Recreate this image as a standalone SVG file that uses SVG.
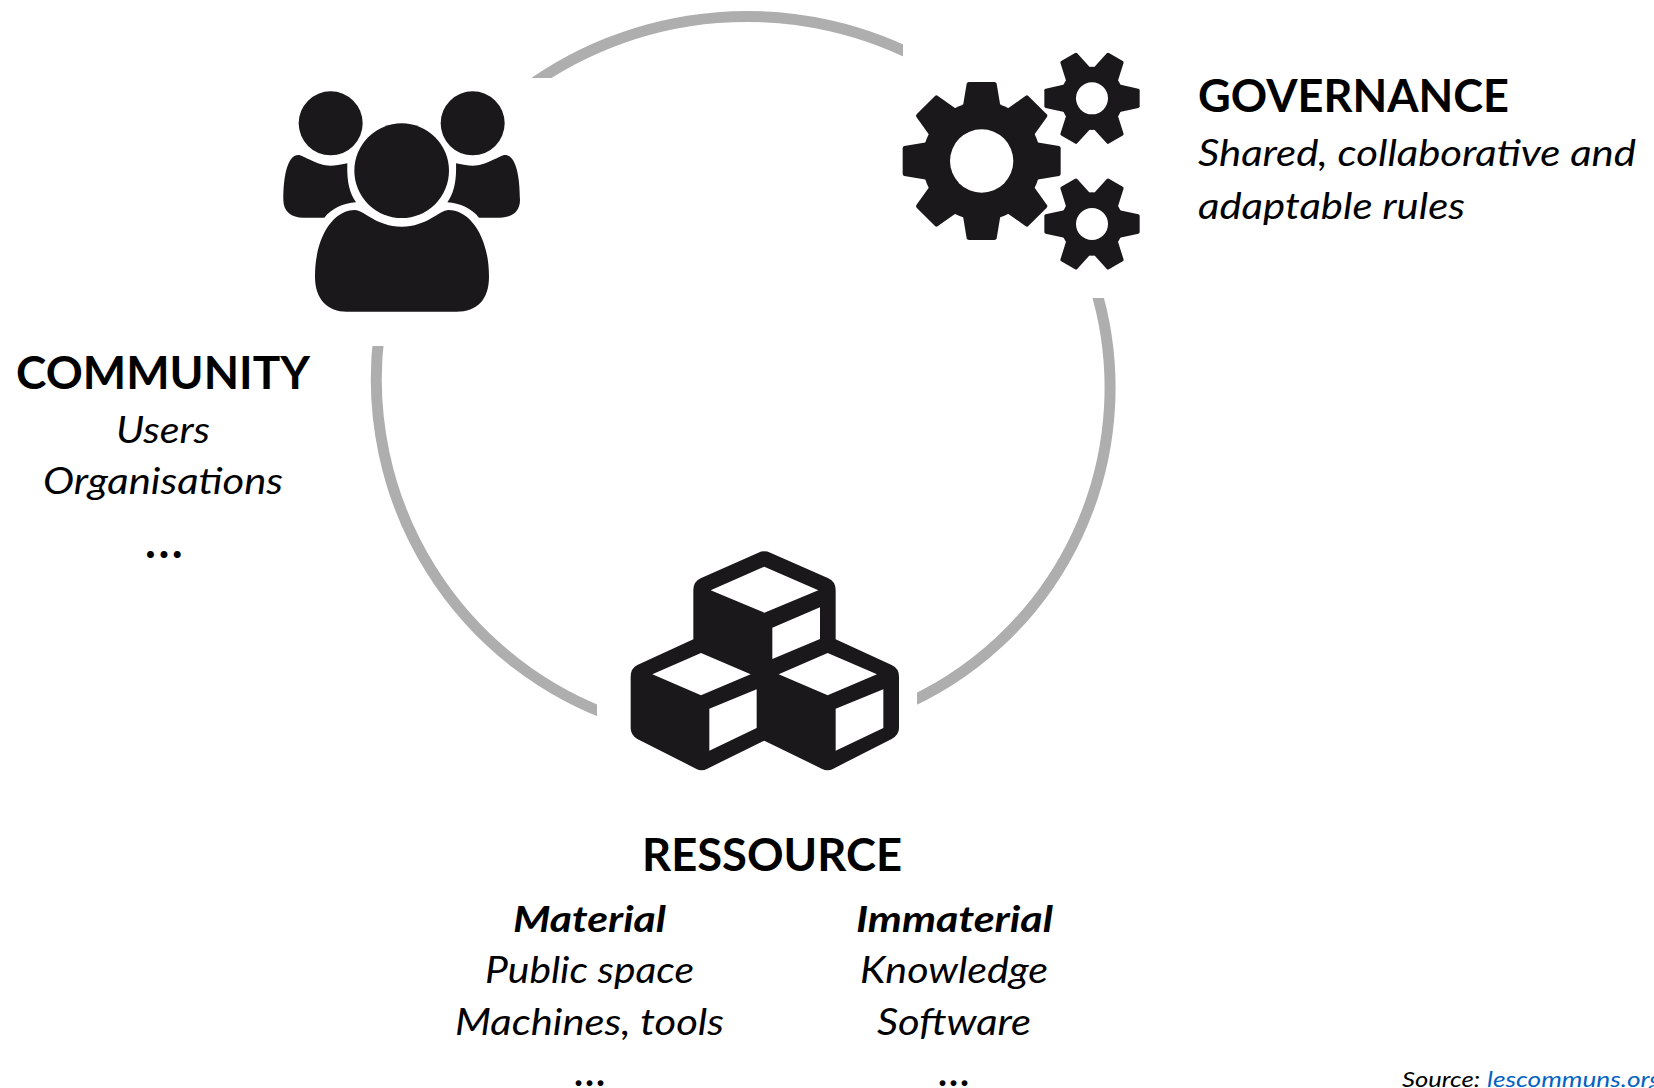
<svg xmlns="http://www.w3.org/2000/svg" width="1654" height="1088" viewBox="0 0 1654 1088">
<style>
text{font-family:"Lato","Carlito","Open Sans",sans-serif;fill:#000}
.h{font-size:46px;font-weight:700}
.i{font-size:37px;font-style:italic}
.b{font-size:37px;font-style:italic;font-weight:700}
.d{font-size:46px;font-weight:700;letter-spacing:2.5px}
.e{font-size:38px;font-weight:700;letter-spacing:2px}
.s{font-size:22px;font-style:italic}
.icon{fill:#1a181b}
.w{fill:#fff}
.arc{fill:none;stroke:#aeaeae;stroke-width:11}
</style>
<defs>
<path id="bt" d="M-57,-160 L-45,-232 Q-44,-237 -38,-237 L38,-237 Q44,-237 45,-232 L57,-160 Z"/>
<path id="st" d="M-42,-80 L-29,-139 Q-28,-143 -24,-143 L24,-143 Q28,-143 29,-139 L42,-80 Z"/>
<g id="small">
<circle r="95"/>
<use href="#st" transform="rotate(90)"/><use href="#st" transform="rotate(30)"/><use href="#st" transform="rotate(150)"/><use href="#st" transform="rotate(210)"/><use href="#st" transform="rotate(270)"/><use href="#st" transform="rotate(330)"/>
<circle r="48" class="w"/>
</g>
</defs>
<rect width="1654" height="1088" fill="#fff"/>
<g id="connectors">
<path class="arc" d="M515,97A375 375 0 0 1 930,64"/>
<path class="arc" d="M379,335A359 359 0 0 0 620,719"/>
<path class="arc" d="M1094.5,285A347 347 0 0 1 895,708.7"/>
<rect x="285" y="78" width="307" height="268" class="w"/>
<rect x="903" y="30" width="261" height="268" class="w"/>
<rect x="597" y="610" width="320" height="150" class="w"/>
</g>
<g id="community">
<g class="icon" transform="translate(260 60) scale(.33333)">
<circle cx="212" cy="190" r="96"/>
<circle cx="638" cy="190" r="96"/>
<circle cx="425" cy="332" r="142"/>
<path d="M285,450C220,450 165,530 165,650C165,720 205,755 260,755L590,755C650,755 687,720 687,650C687,530 630,450 565,450C540,450 500,500 425,500C350,500 310,450 285,450Z"/>
<path d="M115,285C85,285 70,340 70,420C70,455 95,473 130,473L193,473C215,445 250,430 288,427C270,400 260,370 262,310C240,315 225,317 212,317C170,317 130,285 115,285Z"/>
<path d="M735,285C765,285 780,340 780,420C780,455 755,473 720,473L657,473C635,445 600,430 562,427C580,400 590,370 588,310C610,315 625,317 638,317C680,317 720,285 735,285Z"/>
</g>
<text class="h" x="16" y="389" textLength="294" lengthAdjust="spacingAndGlyphs">COMMUNITY</text>
<text class="i" x="116" y="443" textLength="94" lengthAdjust="spacingAndGlyphs">Users</text>
<text class="i" x="43" y="494" textLength="240" lengthAdjust="spacingAndGlyphs">Organisations</text>
<text class="d" x="145" y="558">...</text>
</g>
<g id="governance">
<g class="icon" transform="translate(880 30) scale(.33333)">
<g transform="translate(305 393)">
<circle r="178"/>
<use href="#bt"/><use href="#bt" transform="rotate(45)"/><use href="#bt" transform="rotate(90)"/><use href="#bt" transform="rotate(135)"/><use href="#bt" transform="rotate(180)"/><use href="#bt" transform="rotate(225)"/><use href="#bt" transform="rotate(270)"/><use href="#bt" transform="rotate(315)"/>
<circle r="95" class="w"/>
</g>
<use href="#small" transform="translate(636 205)"/>
<use href="#small" transform="translate(636 582)"/>
</g>
<text class="h" x="1198" y="112" textLength="311" lengthAdjust="spacingAndGlyphs">GOVERNANCE</text>
<text class="i" x="1198" y="166" textLength="438" lengthAdjust="spacingAndGlyphs">Shared, collaborative and</text>
<text class="i" x="1198" y="219" textLength="267" lengthAdjust="spacingAndGlyphs">adaptable rules</text>
</g>
<g id="ressource">
<g transform="translate(590 530) scale(.33333)">
<path class="icon" d="M505,68Q523,60 541,68L715,145Q737,155 737,180L737,328L905,405Q927,415 927,440L927,595Q927,615 905,627L730,716Q713,725 695,716L523,632L352,716Q335,725 318,716L142,627Q122,615 122,595L122,440Q122,415 142,405L310,328L310,180Q310,155 332,145Z"/>
<path class="w" d="M523,110L685,181L523,248L362,181ZM547,293L690,232L690,327L547,387ZM333,369L482,433L333,496L187,433ZM358,536L500,478L500,594L358,662ZM713,369L861,433L713,496L566,433ZM737,536L880,478L880,594L737,662Z"/>
</g>
<text class="h" x="642" y="871" textLength="260" lengthAdjust="spacingAndGlyphs">RESSOURCE</text>
<text class="b" x="513" y="932" textLength="153" lengthAdjust="spacingAndGlyphs">Material</text>
<text class="b" x="856" y="932" textLength="197" lengthAdjust="spacingAndGlyphs">Immaterial</text>
<text class="i" x="485" y="983" textLength="209" lengthAdjust="spacingAndGlyphs">Public space</text>
<text class="i" x="860" y="983" textLength="188" lengthAdjust="spacingAndGlyphs">Knowledge</text>
<text class="i" x="455" y="1035" textLength="269" lengthAdjust="spacingAndGlyphs">Machines, tools</text>
<text class="i" x="877" y="1035" textLength="154" lengthAdjust="spacingAndGlyphs">Software</text>
<text class="e" x="574" y="1086">...</text>
<text class="e" x="938" y="1086">...</text>
</g>
<g id="source">
<text class="s" x="1402" y="1087" textLength="78" lengthAdjust="spacingAndGlyphs">Source:</text>
<text class="s" x="1487" y="1087" style="fill:#0563c1" textLength="175" lengthAdjust="spacingAndGlyphs">lescommuns.org</text>
</g>
</svg>
